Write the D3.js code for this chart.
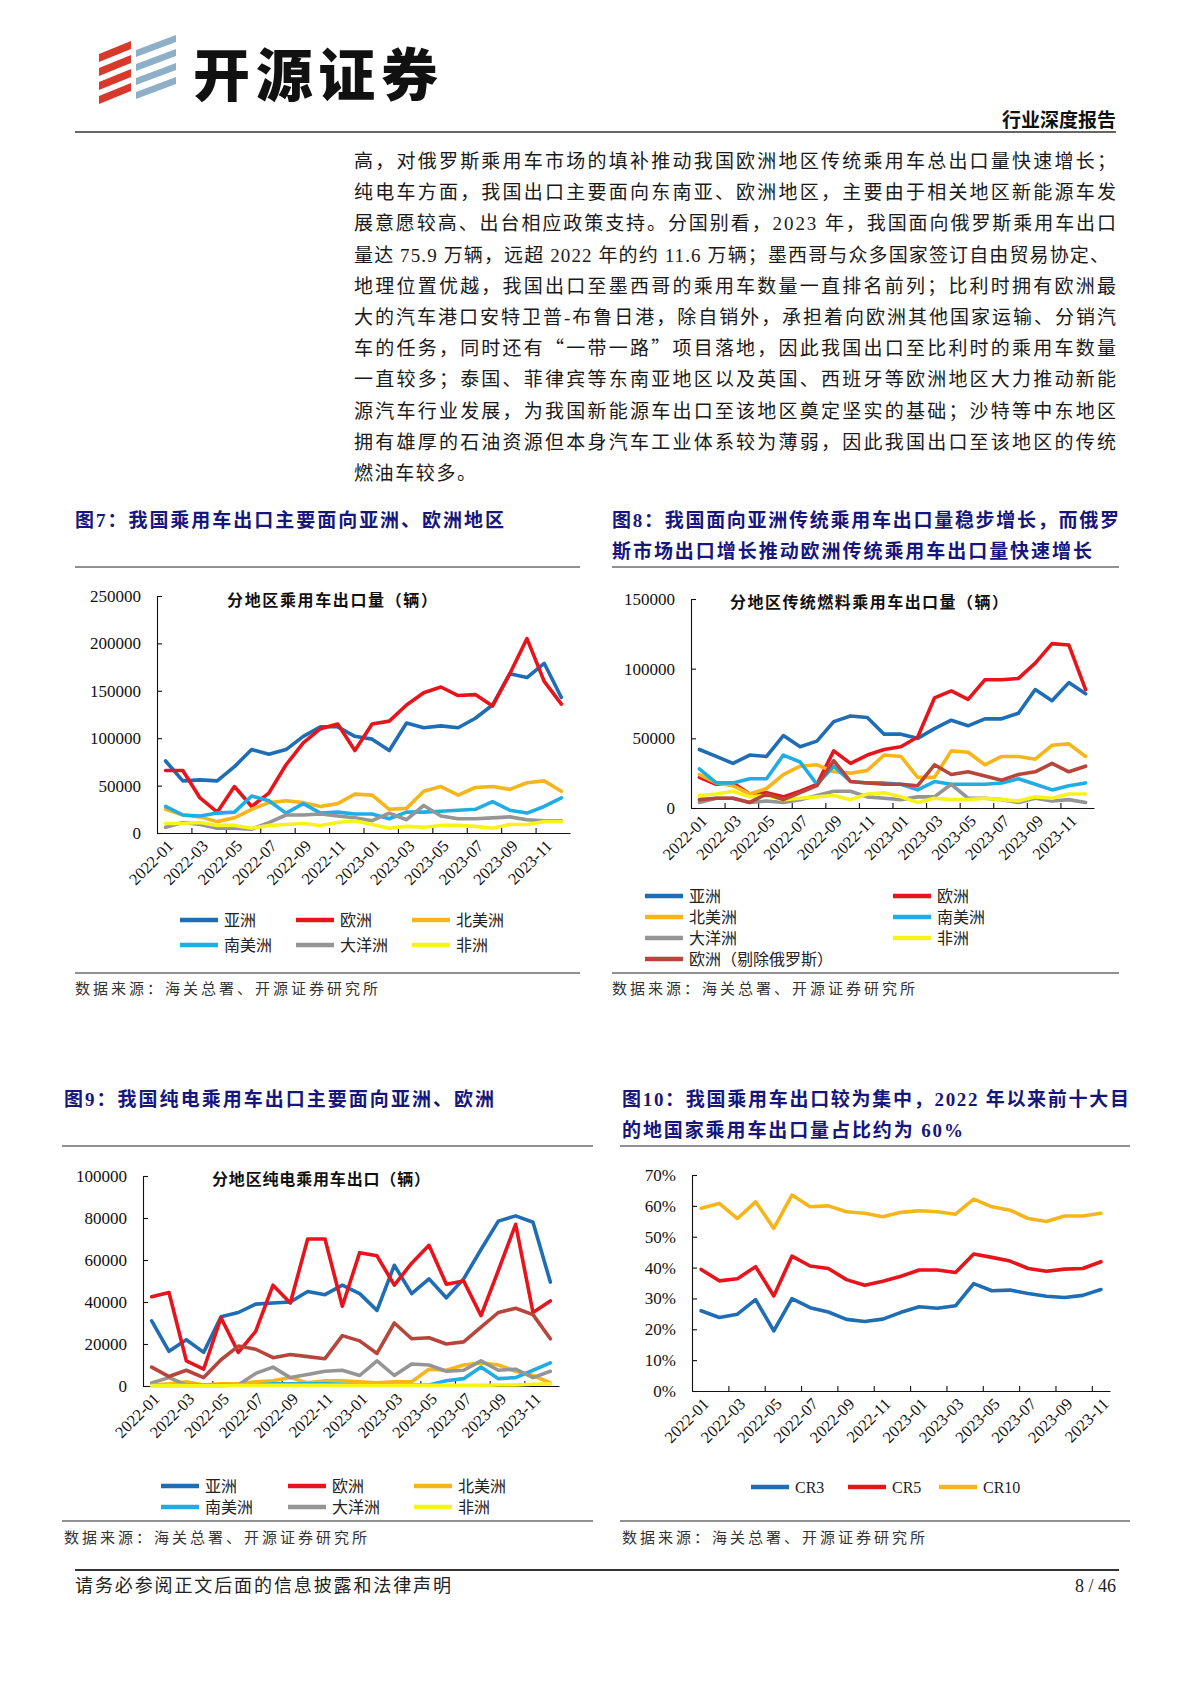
<!DOCTYPE html>
<html><head><meta charset="utf-8">
<script src="https://cdn.jsdelivr.net/npm/d3@7"></script>
<style>body{margin:0;background:#fff;}svg{display:block;}</style>
</head><body>
<svg id="page" width="1190" height="1683"></svg>
<script>
// ---------------- DATA ----------------
const months = ["2022-01","2022-02","2022-03","2022-04","2022-05","2022-06","2022-07","2022-08","2022-09","2022-10","2022-11","2022-12",
                "2023-01","2023-02","2023-03","2023-04","2023-05","2023-06","2023-07","2023-08","2023-09","2023-10","2023-11","2023-12"];
const monthsCR = ["2022-01","2022-02","2022-03","2022-04","2022-05","2022-06","2022-07","2022-08","2022-09","2022-10","2022-11","2022-12",
                "2023-01","2023-02","2023-03","2023-04","2023-05","2023-06","2023-07","2023-08","2023-09","2023-10","2023-11"];
const regionNames = ["亚洲","欧洲","北美洲","南美洲","大洋洲","非洲"];
const exRussiaName = "欧洲（剔除俄罗斯）";
const crNames = ["CR3","CR5","CR10"];

// Fig 7: total passenger car exports by region
const f7_asia    = [76000,55000,56000,55000,70000,88000,83000,88000,102000,112000,112000,102000,99000,87000,116000,111000,113000,111000,121000,135000,168000,164000,179000,143000];
const f7_europe  = [66000,66000,37000,22000,49000,28000,42000,72000,95000,110000,115000,87000,115000,118000,135000,148000,154000,145000,146000,134000,168000,205000,160000,136000];
const f7_namer   = [25000,19000,17000,12000,16000,25000,32000,34000,32000,28000,31000,41000,40000,25000,26000,44000,49000,40000,48000,49000,46000,53000,55000,44000];
const f7_samer   = [28000,19000,18000,21000,22000,39000,34000,21000,31000,21000,22000,20000,20000,15000,22000,22000,23000,24000,25000,33000,24000,21000,28000,37000];
const f7_oceania = [6000,11000,9000,5000,5000,4000,11000,19000,19000,20000,18000,16000,13000,21000,14000,29000,18000,15000,15000,16000,17000,14000,13000,13000];
const f7_africa  = [10000,10000,11000,8000,8000,5000,8000,9000,10000,8000,11000,13000,9000,5000,7000,6000,8000,8000,7000,5000,9000,9000,12000,12000];

// Fig 8: traditional fuel passenger car exports by region
const f8_asia    = [42000,37000,32000,38000,37000,52000,44000,48000,62000,66000,65000,53000,53000,50000,57000,63000,59000,64000,64000,68000,85000,77000,90000,82000];
const f8_europe  = [22000,17000,18000,10000,11000,8000,12000,17000,41000,32000,38000,42000,44000,51000,79000,84000,78000,92000,92000,93000,104000,118000,117000,85000];
const f8_namer   = [24000,18000,16000,10000,14000,24000,30000,31000,26000,25000,27000,38000,37000,22000,22000,41000,40000,31000,37000,37000,35000,45000,46000,37000];
const f8_samer   = [28000,18000,18000,21000,21000,38000,33000,17000,30000,19000,18000,18000,17000,13000,19000,17000,17000,17000,18000,21000,17000,13000,16000,18000];
const f8_oceania = [4000,7000,7000,4000,5000,4000,6000,9000,12000,12000,8000,7000,6000,8000,8000,17000,7000,7000,6000,4000,7000,5000,6000,4000];
const f8_africa  = [9000,10000,12000,8000,9000,6000,7000,8000,9000,6000,10000,11000,8000,4000,7000,6000,6000,7000,6000,5000,8000,7000,10000,10000];
const f8_exRus   = [6000,7000,7000,4000,10000,6000,11000,16000,34000,19000,18000,17000,17000,16000,31000,24000,26000,23000,20000,24000,26000,32000,26000,30000];

// Fig 9: pure electric passenger car exports by region
const f9_asia    = [31000,16500,22000,16000,33000,35000,39000,39500,40000,45000,43500,48000,44000,36000,57500,44000,51000,42000,51000,65000,78500,81000,78000,49500];
const f9_europe  = [42500,44500,12000,8000,32500,16000,26000,48000,39500,70000,70000,38000,63500,62000,48000,58500,67000,48500,50000,33500,55000,77000,35000,40500];
const f9_namer   = [500,1000,2000,500,1000,1000,2000,2500,4000,1500,2500,2500,2000,1500,2000,2000,8000,7500,10000,11000,10000,7000,5000,1500];
const f9_samer   = [300,300,300,300,300,500,500,1000,1000,1000,1000,800,500,500,500,500,500,2500,3500,9000,3500,4000,7500,11000];
const f9_oceania = [1500,4000,500,500,500,500,6000,9000,4000,5500,7000,7500,5000,12000,5000,10500,10000,7000,7500,12000,7500,8000,4000,7000];
const f9_africa  = [200,300,200,200,200,300,300,300,300,300,300,300,300,300,300,300,300,300,300,300,500,500,800,1000];
const f9_exRus   = [9000,4500,7500,4000,12500,19000,17500,13500,15000,14000,13000,24000,21500,15500,30000,22500,23000,20000,21000,28000,35000,37000,34000,22500];

// Fig 10: concentration ratios
const f10_cr3  = [0.260,0.238,0.249,0.296,0.195,0.299,0.270,0.256,0.232,0.225,0.233,0.255,0.273,0.268,0.276,0.348,0.325,0.327,0.316,0.307,0.303,0.310,0.329];
const f10_cr5  = [0.394,0.357,0.364,0.403,0.308,0.437,0.405,0.397,0.361,0.343,0.356,0.372,0.392,0.392,0.384,0.444,0.433,0.421,0.397,0.388,0.395,0.397,0.419];
const f10_cr10 = [0.592,0.608,0.559,0.613,0.527,0.635,0.597,0.600,0.581,0.576,0.565,0.579,0.584,0.581,0.573,0.622,0.597,0.586,0.559,0.549,0.567,0.567,0.576];

const colors = {asia:"#1f6db4", europe:"#e8141c", namer:"#f7b51c", samer:"#20ade6", oceania:"#959595", africa:"#f6f21c", exRus:"#b8453b"};

// ---------------- PAGE ----------------
const svg = d3.select("#page");
const CJK = "'Liberation Serif','Noto Sans CJK SC',serif";
const CJKONLY = "'Noto Sans CJK SC',sans-serif";
const SERIF = "'Liberation Serif','DejaVu Serif',serif";
const NAVY = "#16167c";

function txt(x, y, s, o = {}) {
  const t = svg.append("text").attr("x", x).attr("y", y).text(s)
    .attr("font-family", o.family || CJK).attr("font-size", o.size || 16)
    .attr("fill", o.fill || "#1a1a1a");
  if (o.weight) t.attr("font-weight", o.weight);
  if (o.anchor) t.attr("text-anchor", o.anchor);
  if (o.len) t.attr("textLength", o.len).attr("lengthAdjust", "spacing");
  if (o.ls) t.attr("letter-spacing", o.ls);
  return t;
}
function hline(x1, x2, y, w = 1, c = "#222") {
  svg.append("line").attr("x1", x1).attr("x2", x2).attr("y1", y).attr("y2", y).attr("stroke", c).attr("stroke-width", w);
}

// Logo
const logo = svg.append("g");
[0,1,2,3].forEach(k => {
  const yb = 104 - k * 14;
  logo.append("polygon").attr("points", `99,${yb} 131,${yb-13} 131,${yb-21} 99,${yb-8}`).attr("fill", "#d9392b");
  const yb2 = 99 - k * 14;
  logo.append("polygon").attr("points", `136,${yb2} 176,${yb2-15} 176,${yb2-22} 136,${yb2-7}`).attr("fill", "#8db0c8");
});
txt(193, 96, "开源证券", {family:CJKONLY, size:57, weight:900, fill:"#111", len:245});
txt(1116, 127, "行业深度报告", {size:19, weight:"bold", anchor:"end", fill:"#111"});
hline(75, 1116, 132, 1.6, "#333");

// Body text
const bodyLines = [
  "高，对俄罗斯乘用车市场的填补推动我国欧洲地区传统乘用车总出口量快速增长；",
  "纯电车方面，我国出口主要面向东南亚、欧洲地区，主要由于相关地区新能源车发",
  "展意愿较高、出台相应政策支持。分国别看，2023 年，我国面向俄罗斯乘用车出口",
  "量达 75.9 万辆，远超 2022 年的约 11.6 万辆；墨西哥与众多国家签订自由贸易协定、",
  "地理位置优越，我国出口至墨西哥的乘用车数量一直排名前列；比利时拥有欧洲最",
  "大的汽车港口安特卫普-布鲁日港，除自销外，承担着向欧洲其他国家运输、分销汽",
  "车的任务，同时还有“一带一路”项目落地，因此我国出口至比利时的乘用车数量",
  "一直较多；泰国、菲律宾等东南亚地区以及英国、西班牙等欧洲地区大力推动新能",
  "源汽车行业发展，为我国新能源车出口至该地区奠定坚实的基础；沙特等中东地区",
  "拥有雄厚的石油资源但本身汽车工业体系较为薄弱，因此我国出口至该地区的传统",
  "燃油车较多。"
];
bodyLines.forEach((l, i) => {
  const o = {size:19, fill:"#1a1a1a"};
  if (i < bodyLines.length - 1) o.len = i === 3 ? 755 : 762;
  else o.ls = 1.6;
  if (i === 6) o.family = CJKONLY;
  txt(354, 168 + i * 31.2, l, o);
});

// Figure titles and separators
txt(75, 527, "图7：我国乘用车出口主要面向亚洲、欧洲地区", {size:19, weight:"bold", fill:NAVY, len:429});
hline(75, 580, 567);
txt(612, 527, "图8：我国面向亚洲传统乘用车出口量稳步增长，而俄罗", {size:19, weight:"bold", fill:NAVY, len:507});
txt(612, 558, "斯市场出口增长推动欧洲传统乘用车出口量快速增长", {size:19, weight:"bold", fill:NAVY, len:480});
hline(612, 1119, 567);
txt(64, 1106, "图9：我国纯电乘用车出口主要面向亚洲、欧洲", {size:19, weight:"bold", fill:NAVY, len:430});
hline(62, 593, 1146);
txt(622, 1106, "图10：我国乘用车出口较为集中，2022 年以来前十大目", {size:19, weight:"bold", fill:NAVY, len:507});
txt(622, 1137, "的地国家乘用车出口量占比约为 60%", {size:19, weight:"bold", fill:NAVY, len:341});
hline(620, 1130, 1146);

// Sources
hline(75, 580, 973); txt(75, 994, "数据来源：海关总署、开源证券研究所", {size:15, fill:"#333", len:303});
hline(612, 1119, 973); txt(612, 994, "数据来源：海关总署、开源证券研究所", {size:15, fill:"#333", len:303});
hline(62, 593, 1521); txt(64, 1543, "数据来源：海关总署、开源证券研究所", {size:15, fill:"#333", len:303});
hline(620, 1130, 1521); txt(622, 1543, "数据来源：海关总署、开源证券研究所", {size:15, fill:"#333", len:303});

// Footer
hline(75, 1119, 1570, 2, "#333");
txt(75, 1592, "请务必参阅正文后面的信息披露和法律声明", {size:18, fill:"#222", len:376});
txt(1116, 1592, "8 / 46", {size:18, family:SERIF, anchor:"end", fill:"#222"});

// ---------------- CHARTS ----------------
function drawChart(cfg) {
  const g = svg.append("g");
  const x = d3.scaleBand().domain(cfg.cats).range([cfg.left, cfg.right]).padding(0);
  const idx = d3.scaleLinear().domain([0, cfg.cats.length]).range([cfg.left, cfg.right]);
  const y = d3.scaleLinear().domain([0, cfg.ymax]).range([cfg.bottom, cfg.top]);
  const bw = x.bandwidth();

  const ya = g.append("g").attr("transform", `translate(${cfg.left},0)`)
    .call(d3.axisLeft(y).tickValues(cfg.yticks).tickSize(-5).tickSizeOuter(0).tickPadding(16).tickFormat(cfg.fmt));
  const xa = g.append("g").attr("transform", `translate(0,${cfg.bottom})`)
    .call(d3.axisBottom(idx).tickValues(d3.range(2, cfg.cats.length, 2)).tickSize(-5).tickSizeOuter(0).tickFormat(""));
  [ya, xa].forEach(a => {
    a.selectAll("path,line").attr("stroke", "#111").attr("stroke-width", 1.1);
    a.selectAll("text").attr("font-family", SERIF).attr("font-size", 17).attr("fill", "#111");
  });

  // x labels (every other month)
  g.append("g").selectAll("text").data(cfg.cats.filter((d, i) => i % 2 === 0)).join("text")
    .attr("transform", d => `translate(${x(d) + bw / 2 + 9},${cfg.bottom + 14}) rotate(-45)`)
    .attr("text-anchor", "end").attr("font-family", SERIF).attr("font-size", 16.5).attr("fill", "#111")
    .text(d => d);

  const line = d3.line().x((d, i) => x(cfg.cats[i]) + bw / 2).y(d => y(d));
  cfg.series.forEach(s => {
    g.append("path").datum(s.values).attr("d", line).attr("fill", "none")
      .attr("stroke", s.color).attr("stroke-width", 3.6).attr("stroke-linejoin", "round").attr("stroke-linecap", "round");
  });

  if (cfg.title) {
    g.append("text").attr("x", cfg.title.x).attr("y", cfg.title.y).text(cfg.title.text)
      .attr("font-family", CJK).attr("font-size", 16).attr("font-weight", "bold").attr("fill", "#111")
      .attr("textLength", cfg.title.len).attr("lengthAdjust", "spacing");
  }

  // legend
  const lg = g.append("g");
  cfg.legend.forEach(it => {
    lg.append("line").attr("x1", it.x).attr("x2", it.x + 38).attr("y1", it.y).attr("y2", it.y)
      .attr("stroke", it.color).attr("stroke-width", 4.5);
    lg.append("text").attr("x", it.x + 44).attr("y", it.y + 6).text(it.label)
      .attr("font-family", CJK).attr("font-size", 16).attr("fill", "#222");
  });
}

const yfmt = d3.format("d");

// Fig 7
drawChart({
  cats: months, left:157, right:570, top:596, bottom:833, ymax:250000,
  yticks:[0,50000,100000,150000,200000,250000], fmt:yfmt,
  title:{x:227, y:606, text:"分地区乘用车出口量（辆）", len:210},
  series:[
    {values:f7_asia, color:colors.asia},{values:f7_europe, color:colors.europe},
    {values:f7_namer, color:colors.namer},{values:f7_samer, color:colors.samer},
    {values:f7_oceania, color:colors.oceania},{values:f7_africa, color:colors.africa}],
  legend:[
    {x:180,y:920,color:colors.asia,label:regionNames[0]},{x:296,y:920,color:colors.europe,label:regionNames[1]},
    {x:412,y:920,color:colors.namer,label:regionNames[2]},
    {x:180,y:945,color:colors.samer,label:regionNames[3]},{x:296,y:945,color:colors.oceania,label:regionNames[4]},
    {x:412,y:945,color:colors.africa,label:regionNames[5]}]
});

// Fig 8
drawChart({
  cats: months, left:691, right:1094, top:599, bottom:808, ymax:150000,
  yticks:[0,50000,100000,150000], fmt:yfmt,
  title:{x:730, y:608, text:"分地区传统燃料乘用车出口量（辆）", len:278},
  series:[
    {values:f8_asia, color:colors.asia},{values:f8_europe, color:colors.europe},
    {values:f8_namer, color:colors.namer},{values:f8_samer, color:colors.samer},
    {values:f8_oceania, color:colors.oceania},{values:f8_africa, color:colors.africa},
    {values:f8_exRus, color:colors.exRus}],
  legend:[
    {x:645,y:896,color:colors.asia,label:regionNames[0]},{x:893,y:896,color:colors.europe,label:regionNames[1]},
    {x:645,y:917,color:colors.namer,label:regionNames[2]},{x:893,y:917,color:colors.samer,label:regionNames[3]},
    {x:645,y:938,color:colors.oceania,label:regionNames[4]},{x:893,y:938,color:colors.africa,label:regionNames[5]},
    {x:645,y:959,color:colors.exRus,label:exRussiaName}]
});

// Fig 9
drawChart({
  cats: months, left:143, right:559, top:1176, bottom:1386, ymax:100000,
  yticks:[0,20000,40000,60000,80000,100000], fmt:yfmt,
  title:{x:212, y:1185, text:"分地区纯电乘用车出口（辆）", len:218},
  series:[
    {values:f9_asia, color:colors.asia},{values:f9_europe, color:colors.europe},
    {values:f9_namer, color:colors.namer},{values:f9_samer, color:colors.samer},
    {values:f9_oceania, color:colors.oceania},{values:f9_africa, color:colors.africa},
    {values:f9_exRus, color:colors.exRus}],
  legend:[
    {x:161,y:1486,color:colors.asia,label:regionNames[0]},{x:288,y:1486,color:colors.europe,label:regionNames[1]},
    {x:414,y:1486,color:colors.namer,label:regionNames[2]},
    {x:161,y:1507,color:colors.samer,label:regionNames[3]},{x:288,y:1507,color:colors.oceania,label:regionNames[4]},
    {x:414,y:1507,color:colors.africa,label:regionNames[5]}]
});

// Fig 10
drawChart({
  cats: monthsCR, left:692, right:1110, top:1175, bottom:1391, ymax:0.7,
  yticks:[0,0.1,0.2,0.3,0.4,0.5,0.6,0.7], fmt:d3.format(".0%"),
  series:[
    {values:f10_cr3, color:colors.asia},{values:f10_cr5, color:colors.europe},{values:f10_cr10, color:colors.namer}],
  legend:[
    {x:751,y:1487,color:colors.asia,label:crNames[0]},{x:848,y:1487,color:colors.europe,label:crNames[1]},
    {x:939,y:1487,color:colors.namer,label:crNames[2]}]
});
</script>
</body></html>
